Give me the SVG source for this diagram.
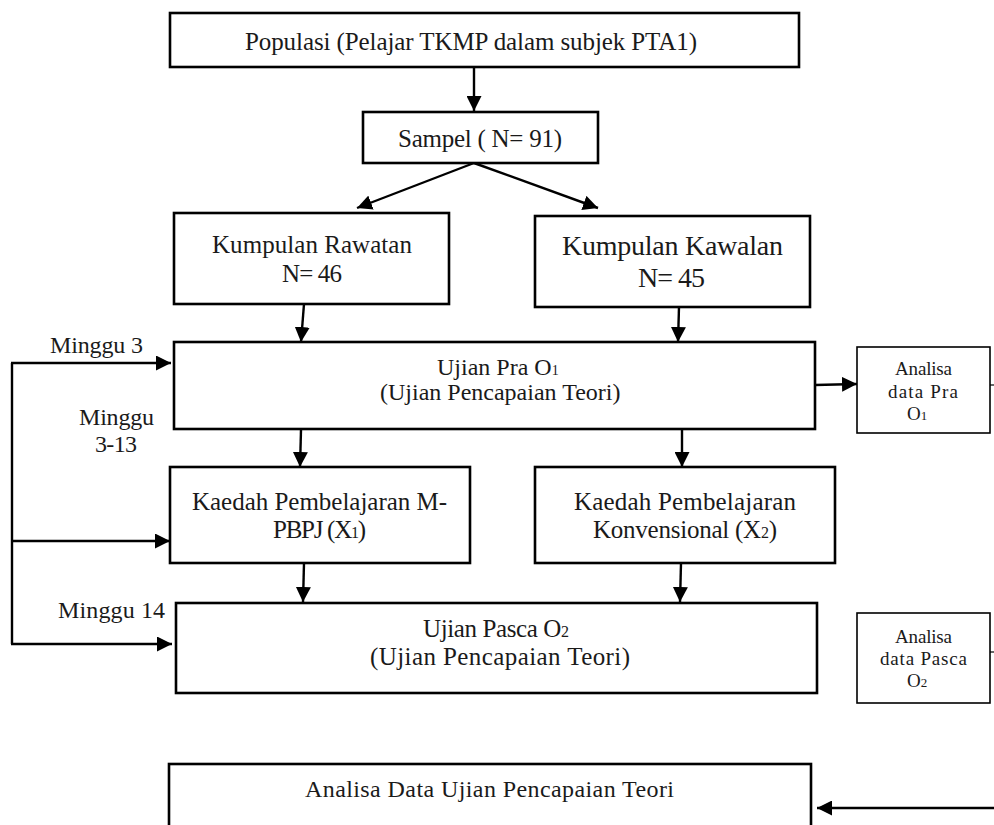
<svg xmlns="http://www.w3.org/2000/svg" width="994" height="825" viewBox="0 0 994 825">
<defs>
<style>
.box{fill:#fff;stroke:#000;stroke-width:2.6}
.thin{fill:#fff;stroke:#000;stroke-width:1.6}
.t{font-family:"Liberation Serif","Times New Roman",serif;fill:#1a1a1a}
.c{stroke:#000;stroke-width:2.4;fill:none}
.cs{stroke:#000;stroke-width:1.2;fill:none}
</style>
<marker id="ah" viewBox="0 0 15 15" markerWidth="15" markerHeight="15" refX="15" refY="7.5" orient="auto" markerUnits="userSpaceOnUse">
<path d="M0,0 L15,7.5 L0,15 z" fill="#000"/>
</marker>
</defs>
<rect width="994" height="825" fill="#fff"/>

<g id="connectors">
<line class="c" x1="474" y1="67" x2="474" y2="111" marker-end="url(#ah)"/>
<line class="c" x1="474" y1="163" x2="357" y2="208" marker-end="url(#ah)"/>
<line class="c" x1="474" y1="163" x2="598" y2="208" marker-end="url(#ah)"/>
<line class="c" x1="304" y1="304" x2="301" y2="342" marker-end="url(#ah)"/>
<line class="c" x1="679" y1="307" x2="678" y2="342" marker-end="url(#ah)"/>
<line class="c" x1="815" y1="385" x2="857" y2="384" marker-end="url(#ah)"/>
<line class="c" x1="301" y1="430" x2="300" y2="467" marker-end="url(#ah)"/>
<line class="c" x1="682" y1="430" x2="682" y2="467" marker-end="url(#ah)"/>
<line class="c" x1="304" y1="563" x2="303" y2="602" marker-end="url(#ah)"/>
<line class="c" x1="681" y1="563" x2="680" y2="602" marker-end="url(#ah)"/>
<line class="c" x1="12" y1="363" x2="12" y2="644"/>
<line class="c" x1="11" y1="363" x2="171" y2="363" marker-end="url(#ah)"/>
<line class="c" x1="11" y1="541" x2="170" y2="541" marker-end="url(#ah)"/>
<line class="c" x1="11" y1="644" x2="172" y2="644" marker-end="url(#ah)"/>
<line class="cs" x1="990" y1="385" x2="994" y2="385"/>
<line class="cs" x1="990" y1="652" x2="994" y2="652"/>
<line class="c" x1="994" y1="808" x2="817" y2="808" marker-end="url(#ah)"/>
</g>

<g id="populasi">
<rect class="box" x="170" y="13" width="629" height="54"/>
<text class="t" x="245" y="50" font-size="25" textLength="452">Populasi (Pelajar TKMP dalam subjek PTA1)</text>
</g>

<g id="sampel">
<rect class="box" x="363" y="112" width="235" height="51"/>
<text class="t" x="398" y="147" font-size="25" textLength="164">Sampel ( N= 91)</text>
</g>

<g id="rawatan">
<rect class="box" x="174" y="213" width="275" height="91"/>
<text class="t" x="212" y="253" font-size="25" textLength="200">Kumpulan Rawatan</text>
<text class="t" x="282" y="282" font-size="25" textLength="60">N= 46</text>
</g>

<g id="kawalan">
<rect class="box" x="535" y="216" width="275" height="91"/>
<text class="t" x="562" y="255" font-size="28" textLength="221">Kumpulan Kawalan</text>
<text class="t" x="638" y="287" font-size="28" textLength="67">N= 45</text>
</g>

<g id="ujian-pra">
<rect class="box" x="174" y="342" width="641" height="87"/>
<text class="t" x="437" y="375" font-size="24">Ujian Pra O<tspan font-size="14">1</tspan></text>
<text class="t" x="380" y="400" font-size="24">(Ujian Pencapaian Teori)</text>
</g>

<g id="analisa-pra">
<rect class="thin" x="857" y="347" width="133" height="86"/>
<text class="t" x="895" y="375" font-size="19" textLength="57">Analisa</text>
<text class="t" x="888" y="398" font-size="19" textLength="70">data  Pra</text>
<text class="t" x="907" y="420" font-size="19">O<tspan font-size="13">1</tspan></text>
</g>

<g id="kaedah-mpbpj">
<rect class="box" x="170" y="467" width="300" height="96"/>
<text class="t" x="192" y="510" font-size="25" textLength="255">Kaedah Pembelajaran M-</text>
<text class="t" x="273" y="538" font-size="25" textLength="93">PBPJ (X<tspan font-size="16">1</tspan>)</text>
</g>

<g id="kaedah-konv">
<rect class="box" x="535" y="467" width="300" height="96"/>
<text class="t" x="574" y="510" font-size="25" textLength="222">Kaedah Pembelajaran</text>
<text class="t" x="593" y="538" font-size="25" textLength="184">Konvensional (X<tspan font-size="16">2</tspan>)</text>
</g>

<g id="ujian-pasca">
<rect class="box" x="176" y="603" width="641" height="90"/>
<text class="t" x="423" y="637" font-size="25" textLength="146">Ujian Pasca O<tspan font-size="16">2</tspan></text>
<text class="t" x="370" y="665" font-size="25" textLength="260">(Ujian Pencapaian Teori)</text>
</g>

<g id="analisa-pasca">
<rect class="thin" x="857" y="613" width="133" height="90"/>
<text class="t" x="895" y="643" font-size="19" textLength="57">Analisa</text>
<text class="t" x="880" y="665" font-size="19" textLength="87">data  Pasca</text>
<text class="t" x="907" y="687" font-size="19">O<tspan font-size="13">2</tspan></text>
</g>

<g id="analisa-data">
<rect class="box" x="169" y="764" width="642" height="70"/>
<text class="t" x="305" y="797" font-size="24" textLength="369">Analisa Data Ujian Pencapaian Teori</text>
</g>

<g id="labels">
<text class="t" x="50" y="353" font-size="24" textLength="93">Minggu 3</text>
<text class="t" x="79" y="425" font-size="24" textLength="75">Minggu</text>
<text class="t" x="95" y="452" font-size="24" textLength="42">3-13</text>
<text class="t" x="58" y="618" font-size="24" textLength="107">Minggu 14</text>
</g>
</svg>
